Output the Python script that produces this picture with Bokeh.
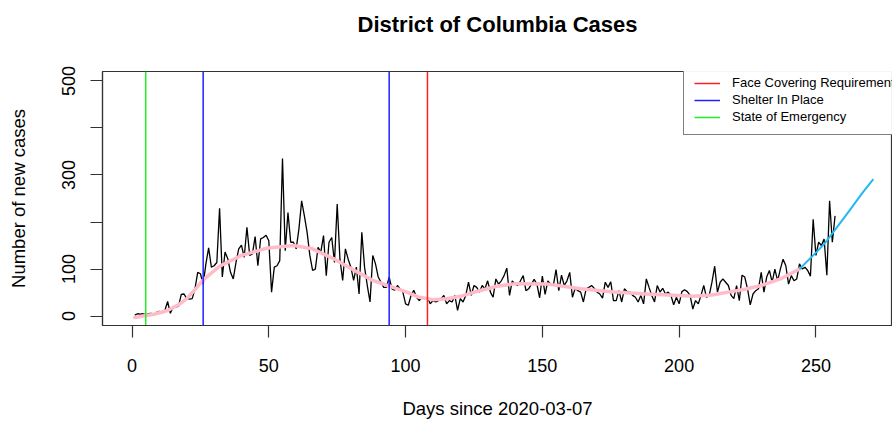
from bokeh.plotting import figure
from bokeh.models import Range1d, FixedTicker, Legend, LegendItem, Title
from bokeh.embed import file_html
from bokeh.resources import INLINE

# ---------------- data ----------------
TITLE = "District of Columbia Cases"
X_LABEL = "Days since 2020-03-07"
Y_LABEL = "Number of new cases"
X_TICKS = [0, 50, 100, 150, 200, 250]
Y_TICKS = [0, 100, 200, 300, 400, 500]
Y_TICK_LABELS = ["0", "100", "", "300", "", "500"]
X_RANGE = (-10.8, 278.0)
Y_RANGE = (-20, 520)

cases = [
    2, 5, 4, 5, 3, 5, 6, 4, 8, 10,            # 1-10
    7, 12, 31, 6, 19, 19, 21, 46, 47, 37,     # 11-20
    36, 37, 58, 93, 90, 68, 111, 145, 104, 107,   # 21-30
    114, 229, 83, 136, 122, 93, 79, 114, 143, 151,  # 31-40
    125, 189, 129, 132, 169, 107, 164, 167, 172, 160,  # 41-50
    51, 104, 107, 118, 335, 139, 220, 157, 157, 143,  # 51-60
    185, 245, 213, 178, 129, 97, 100, 146, 136, 171,  # 61-70
    86, 157, 167, 114, 238, 121, 76, 143, 121, 104,   # 71-80
    76, 104, 47, 178, 104, 65, 30, 129, 111, 83,      # 81-90
    72, 61, 61, 83, 58, 55, 65, 58, 51, 26,           # 91-100
    23, 44, 55, 40, 33, 40, 37, 40, 26, 33,           # 101-110
    30, 33, 37, 44, 26, 33, 30, 44, 12, 37,           # 111-120
    30, 44, 72, 44, 65, 61, 51, 65, 58,               # 121-129
    75, 51, 40, 79, 68, 75, 86, 102, 44, 75,          # 130-139
    68, 65, 75, 86, 54, 58, 68, 78, 68, 39,           # 140-149
    85, 46, 75, 68, 65, 99, 54, 87, 65, 75,           # 150-159
    93, 40, 59, 54, 51, 30, 58, 61, 65, 59,           # 160-169
    51, 47, 38, 72, 61, 73, 33, 33, 54, 30,           # 170-179
    58, 52, 51, 44, 40, 30, 44, 26, 79, 61,           # 180-189
    44, 30, 65, 51, 59, 47, 51, 44, 24, 40,           # 190-199
    26, 52, 56, 52, 44, 15, 33, 26, 44, 65,           # 200-209
    40, 44, 72, 106, 51, 72, 79, 72, 65, 44,          # 210-219
    37, 65, 33, 87, 83, 58, 24, 47, 54, 58,           # 220-229
    93, 51, 83, 97, 72, 100, 75, 100, 121, 107,       # 230-239
    68, 86, 75, 79, 111, 100, 104, 97, 85, 206,       # 240-249
    129, 157, 150, 164, 87, 245, 157, 213,            # 250-257
]
days = list(range(1, len(cases) + 1))

smooth_days = [1, 8, 13, 17, 20, 23, 26, 32, 40, 49, 59, 66, 74, 81, 88, 94,
               100, 105, 110, 115, 120, 127, 133, 140, 152, 164, 176, 188,
               200, 205, 212, 218, 224, 230, 237, 244]
smooth_vals = [-3, 4, 12, 24, 37, 56, 77, 106, 129, 144, 150, 143, 121, 98, 76, 64,
               52, 40, 35, 37, 42, 54, 63, 69, 68, 58, 51, 47,
               44, 42, 45, 51, 57, 65, 79, 100]

proj_days = [244, 249, 253, 256, 262, 267, 271]
proj_vals = [100, 129, 153, 176, 222, 262, 291]

event_labels = ["Face Covering Requirement", "Shelter In Place", "State of Emergency"]
event_days = [[108], [26, 94], [5]]

# ---------------- styles ----------------
event_colors = ["#FF2020", "#2020FF", "#20F020"]
FONT = "Liberation Sans"
BOX = "#333333"
W, H = 892, 421
BL, BT, BB = 102, 71, 94

p = figure(width=W, height=H, output_backend="svg", toolbar_location=None,
           title=None,
           x_range=Range1d(*X_RANGE), y_range=Range1d(*Y_RANGE),
           min_border_left=BL, min_border_right=0, min_border_top=BT,
           min_border_bottom=BB)

p.line(days, cases, line_color="black", line_width=1.3)
p.line(smooth_days, smooth_vals, line_color="#FFBCC8", line_width=3.5,
       line_join="round", line_cap="round")
p.line(proj_days, proj_vals, line_color="#22B8F2", line_width=2, line_join="round")

items = []
for lab, xs, col in zip(event_labels, event_days, event_colors):
    n = len(xs)
    r = p.segment(x0=xs, y0=[Y_RANGE[0]] * n, x1=xs, y1=[Y_RANGE[1]] * n,
                  line_color=col, line_width=1.5)
    items.append(LegendItem(label=lab, renderers=[r]))

frame_h = H - BT - BB

legend = Legend(items=items, location=(581, frame_h - 66))
legend.label_text_font = FONT
legend.label_text_font_size = "13px"
legend.label_text_color = "black"
legend.glyph_width = 26
legend.glyph_height = 14
legend.label_height = 14
legend.label_standoff = 12
legend.spacing = 2
legend.padding = 10
legend.margin = 0
legend.border_line_color = "black"
legend.border_line_width = 1
p.add_layout(legend)

# spacer (closest to the frame) then the main title above it
spacer = Title(text=" ", text_font_size="10px", standoff=22, text_color="white")
p.add_layout(spacer, "above")
main_title = Title(text=TITLE, align="center", text_font=FONT, text_font_size="22px",
                   text_font_style="bold", text_color="black", standoff=0)
p.add_layout(main_title, "above")

p.grid.visible = False
p.outline_line_color = BOX
p.outline_line_width = 1.2

for ax in (p.xaxis[0], p.yaxis[0]):
    ax.axis_line_color = BOX
    ax.axis_line_width = 1.2
    ax.major_tick_line_color = BOX
    ax.major_tick_line_width = 1.2
    ax.major_tick_out = 12
    ax.major_tick_in = 0
    ax.minor_tick_line_color = None
    ax.major_label_text_font = FONT
    ax.major_label_text_font_size = "18px"
    ax.major_label_text_color = "black"
    ax.axis_label_text_font = FONT
    ax.axis_label_text_font_size = "18.5px"
    ax.axis_label_text_font_style = "normal"
    ax.axis_label_text_color = "black"

p.xaxis.ticker = FixedTicker(ticks=X_TICKS)
p.xaxis.axis_label = X_LABEL
p.xaxis.major_label_standoff = 21
p.xaxis.axis_label_standoff = 23

p.yaxis.ticker = FixedTicker(ticks=Y_TICKS)
p.yaxis.major_label_overrides = {t: s for t, s in zip(Y_TICKS, Y_TICK_LABELS)}
p.yaxis.major_label_orientation = "vertical"
p.yaxis.axis_label = Y_LABEL
p.yaxis.major_label_standoff = 15
p.yaxis.axis_label_standoff = 31

open("out.html", "w").write(file_html(p, INLINE))
